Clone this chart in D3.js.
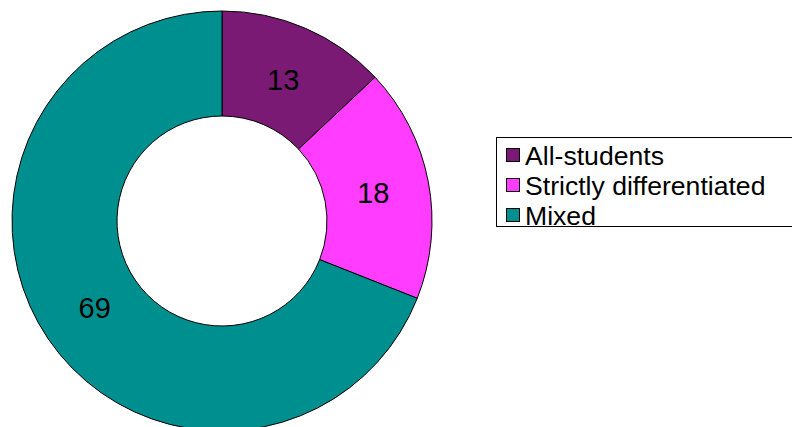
<!DOCTYPE html>
<html>
<head>
<meta charset="utf-8">
<script src="https://cdn.jsdelivr.net/npm/d3@7"></script>
<style>
  html, body { margin: 0; padding: 0; background: #fff; }
  svg { display: block; }
</style>
</head>
<body>
<svg id="chart" width="792" height="427"></svg>
<script>
const categories = ["All-students", "Strictly differentiated", "Mixed"];
const values = [13, 18, 69];
const colors = ["#7A1A75", "#FF3CFF", "#008F8F"];

const W = 792, H = 427;
const svg = d3.select("#chart");
const cx = 222, cy = 221, rOuter = 210, rInner = 105;

const pie = d3.pie().sort(null).value(d => d)(values);
const arc = d3.arc().innerRadius(rInner).outerRadius(rOuter);
const labelArc = d3.arc().innerRadius(154).outerRadius(154);

const g = svg.append("g").attr("transform", `translate(${cx},${cy})`);
g.selectAll("path.slice").data(pie).enter().append("path")
  .attr("class", "slice")
  .attr("d", arc)
  .attr("fill", (d, i) => colors[i])
  .attr("stroke", "#000")
  .attr("stroke-width", 1);

g.selectAll("text.lbl").data(pie).enter().append("text")
  .attr("class", "lbl")
  .attr("transform", d => `translate(${labelArc.centroid(d)})`)
  .attr("text-anchor", "middle")
  .attr("dy", "0.36em")
  .attr("font-family", "Liberation Sans, Arial, sans-serif")
  .attr("font-size", 29)
  .attr("fill", "#000")
  .text(d => d.value);

// Legend
const lg = svg.append("g");
const lx = 496, ly = 137, lw = 300, lh = 89;
const clip = svg.append("defs").append("clipPath").attr("id", "lgclip")
  .append("rect").attr("x", lx).attr("y", ly).attr("width", lw).attr("height", lh);
lg.append("rect").attr("x", lx + 0.5).attr("y", ly + 0.5).attr("width", lw).attr("height", lh)
  .attr("fill", "#fff").attr("stroke", "#000").attr("stroke-width", 1);
const items = lg.append("g").attr("clip-path", "url(#lgclip)")
  .selectAll("g").data(categories).enter().append("g")
  .attr("transform", (d, i) => `translate(${lx + 10},${ly + 28 + i * 30})`);
items.append("rect").attr("x", 0.5).attr("y", -16.5).attr("width", 13).attr("height", 13)
  .attr("fill", (d, i) => colors[i]).attr("stroke", "#000").attr("stroke-width", 1);
items.append("text").attr("x", 19).attr("y", 0)
  .attr("font-family", "Liberation Sans, Arial, sans-serif")
  .attr("font-size", 26.6)
  .attr("fill", "#000")
  .text(d => d);
</script>
</body>
</html>
